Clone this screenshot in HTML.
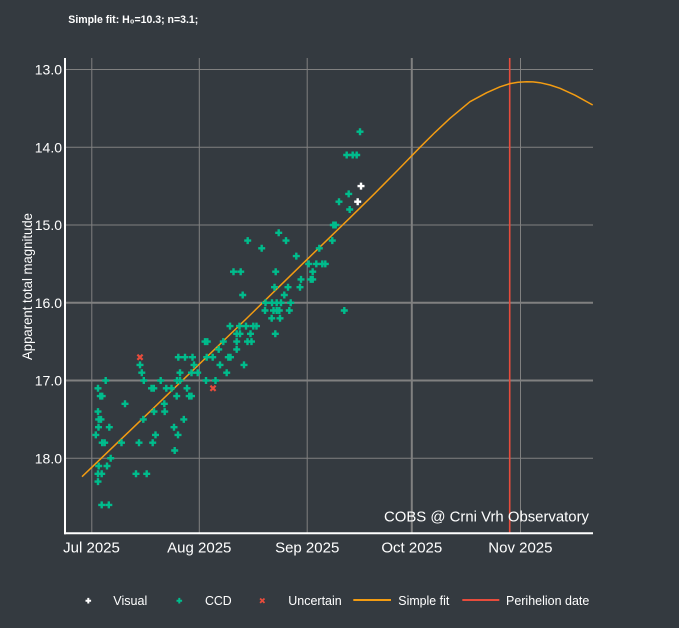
<!DOCTYPE html>
<html><head><meta charset="utf-8"><style>
html,body{margin:0;padding:0;background:#343a40;}
svg{display:block;font-family:"Liberation Sans",Arial,sans-serif;}
</style></head><body>
<svg width="679" height="628" viewBox="0 0 679 628" xmlns="http://www.w3.org/2000/svg">
<defs>
<path id="c" d="M-3.5-1.2h2.3v-2.3h2.4v2.3h2.3v2.4h-2.3v2.3h-2.4v-2.3h-2.3z"/>
<path id="cs" d="M-2.8-1h1.8v-1.8h2v1.8h1.8v2h-1.8v1.8h-2v-1.8h-1.8z"/>
<g id="x"><path d="M-2.6-2.6L2.6 2.6M-2.6 2.6L2.6-2.6" stroke="#e74c3c" stroke-width="2.2"/></g>
<g id="xs"><path d="M-2.2-2.2L2.2 2.2M-2.2 2.2L2.2-2.2" stroke="#e74c3c" stroke-width="1.8"/></g>
</defs>
<rect width="679" height="628" fill="#343a40"/>
<text x="68.3" y="23" font-size="11" font-weight="bold" fill="#fff" textLength="130" lengthAdjust="spacingAndGlyphs">Simple fit: H₀=10.3; n=3.1;</text>

<!-- grid -->
<g stroke="#808080" fill="none">
<line x1="65" y1="69.5" x2="593" y2="69.5" stroke-width="1"/>
<line x1="65" y1="147.3" x2="593" y2="147.3" stroke-width="1"/>
<line x1="65" y1="225" x2="593" y2="225" stroke-width="1"/>
<line x1="65" y1="302.75" x2="593" y2="302.75" stroke-width="2"/>
<line x1="65" y1="380.5" x2="593" y2="380.5" stroke-width="2"/>
<line x1="65" y1="458.25" x2="593" y2="458.25" stroke-width="1"/>
<line x1="91.8" y1="58" x2="91.8" y2="533" stroke-width="1"/>
<line x1="199.3" y1="58" x2="199.3" y2="533" stroke-width="1"/>
<line x1="307.2" y1="58" x2="307.2" y2="533" stroke-width="1"/>
<line x1="411.8" y1="58" x2="411.8" y2="533" stroke-width="2"/>
<line x1="520.5" y1="58" x2="520.5" y2="533" stroke-width="1"/>
</g>
<line x1="509.7" y1="58" x2="509.7" y2="533" stroke="#e74c3c" stroke-width="1.6"/>

<!-- axes -->
<line x1="65" y1="58" x2="65" y2="534.3" stroke="#fff" stroke-width="2"/>
<line x1="64" y1="533.3" x2="593" y2="533.3" stroke="#fff" stroke-width="2"/>

<!-- y ticks -->
<g font-size="14" fill="#fff" text-anchor="end">
<text x="62" y="74.5">13.0</text>
<text x="62" y="152.3">14.0</text>
<text x="62" y="230">15.0</text>
<text x="62" y="307.8">16.0</text>
<text x="62" y="385.5">17.0</text>
<text x="62" y="463.3">18.0</text>
</g>
<text transform="translate(32,286.5) rotate(-90)" text-anchor="middle" font-size="14" fill="#fff" textLength="147" lengthAdjust="spacingAndGlyphs">Apparent total magnitude</text>

<!-- x ticks -->
<g font-size="15" fill="#fff" text-anchor="middle">
<text x="91.5" y="552.3">Jul 2025</text>
<text x="199.3" y="552.3">Aug 2025</text>
<text x="307.2" y="552.3">Sep 2025</text>
<text x="411.8" y="552.3">Oct 2025</text>
<text x="520.4" y="552.3">Nov 2025</text>
</g>

<!-- fit -->
<polyline fill="none" stroke="#f39c12" stroke-width="1.5" stroke-linejoin="round" points="82,476.7 195,368.3 245,320 300,266.3 350,217.8 375,193.2 398.3,169.6 420,147.3 435,132.4 450,118.3 470,101.7 486.7,92.7 500,86.8 510,83.6 518,82.2 526.7,81.7 533,81.9 540,82.7 550,85 560,88.3 575,95.2 592.7,105"/>

<!-- CCD -->
<g fill="#00bc8c">
<use href="#c" x="360" y="131.7"/>
<use href="#c" x="346.7" y="155"/><use href="#c" x="352.7" y="155"/><use href="#c" x="356.7" y="155"/>
<use href="#c" x="348.7" y="193.9"/>
<use href="#c" x="339" y="201.7"/>
<use href="#c" x="349.7" y="209.5"/>
<use href="#c" x="333.3" y="225"/><use href="#c" x="335.7" y="225"/>
<use href="#c" x="278.7" y="232.8"/>
<use href="#c" x="247.7" y="240.6"/><use href="#c" x="286" y="240.6"/><use href="#c" x="332.3" y="240.6"/>
<use href="#c" x="261.7" y="248.3"/><use href="#c" x="319.3" y="248.3"/>
<use href="#c" x="296.3" y="256.1"/>
<use href="#c" x="308.7" y="263.9"/><use href="#c" x="316.3" y="263.9"/><use href="#c" x="322.3" y="263.9"/><use href="#c" x="325.3" y="263.9"/>
<use href="#c" x="233.5" y="271.7"/><use href="#c" x="240.7" y="271.7"/><use href="#c" x="275.7" y="271.7"/><use href="#c" x="312.7" y="271.7"/>
<use href="#c" x="301" y="279.4"/><use href="#c" x="310.7" y="279.4"/><use href="#c" x="312.7" y="279.4"/>
<use href="#c" x="274.5" y="287.2"/><use href="#c" x="288" y="287.2"/><use href="#c" x="300" y="287.2"/>
<use href="#c" x="242.7" y="295"/><use href="#c" x="284.3" y="295"/>
<use href="#c" x="265.5" y="302.75"/><use href="#c" x="272" y="302.75"/><use href="#c" x="276.7" y="302.75"/><use href="#c" x="281" y="302.75"/><use href="#c" x="290.7" y="302.75"/>
<use href="#c" x="265" y="310.5"/><use href="#c" x="273.5" y="310.5"/><use href="#c" x="276.7" y="310.5"/><use href="#c" x="279.3" y="310.5"/><use href="#c" x="289.3" y="310.5"/><use href="#c" x="344.3" y="310.5"/>
<use href="#c" x="271.7" y="318.3"/><use href="#c" x="280" y="318.3"/>
<use href="#c" x="230" y="326.1"/><use href="#c" x="239.5" y="326.1"/><use href="#c" x="246" y="326.1"/><use href="#c" x="253.3" y="326.1"/><use href="#c" x="256.5" y="326.1"/>
<use href="#c" x="236.7" y="333.8"/><use href="#c" x="240" y="333.8"/><use href="#c" x="250.5" y="333.8"/><use href="#c" x="275.3" y="333.8"/>
<use href="#c" x="205" y="341.6"/><use href="#c" x="207.3" y="341.6"/><use href="#c" x="223.3" y="341.6"/><use href="#c" x="236.7" y="341.6"/><use href="#c" x="247.5" y="341.6"/><use href="#c" x="251.5" y="341.6"/>
<use href="#c" x="218.7" y="349.4"/><use href="#c" x="236.7" y="349.4"/>
<use href="#c" x="178.3" y="357.2"/><use href="#c" x="185" y="357.2"/><use href="#c" x="192.5" y="357.2"/><use href="#c" x="206.7" y="357.2"/><use href="#c" x="212.7" y="357.2"/><use href="#c" x="228.3" y="357.2"/><use href="#c" x="230.5" y="357.2"/>
<use href="#c" x="140" y="364.9"/><use href="#c" x="194" y="364.9"/><use href="#c" x="220" y="364.9"/><use href="#c" x="244" y="364.9"/>
<use href="#c" x="141.8" y="372.7"/><use href="#c" x="180" y="372.7"/><use href="#c" x="191.5" y="372.7"/><use href="#c" x="197.7" y="372.7"/><use href="#c" x="226.7" y="372.7"/>
<use href="#c" x="105.7" y="380.5"/><use href="#c" x="143.8" y="380.5"/><use href="#c" x="160.7" y="380.5"/><use href="#c" x="177" y="380.5"/><use href="#c" x="180" y="380.5"/><use href="#c" x="206" y="380.5"/><use href="#c" x="215.5" y="380.5"/>
<use href="#c" x="98" y="388.3"/><use href="#c" x="151.5" y="388.3"/><use href="#c" x="153.8" y="388.3"/><use href="#c" x="166.3" y="388.3"/><use href="#c" x="171.5" y="388.3"/><use href="#c" x="187" y="388.3"/>
<use href="#c" x="100.3" y="396.1"/><use href="#c" x="102.2" y="396.1"/><use href="#c" x="176.7" y="396.1"/><use href="#c" x="189.2" y="396.1"/><use href="#c" x="191.5" y="396.1"/>
<use href="#c" x="125" y="403.8"/><use href="#c" x="164.3" y="403.8"/>
<use href="#c" x="98" y="411.6"/><use href="#c" x="154" y="411.6"/><use href="#c" x="164.7" y="411.6"/>
<use href="#c" x="98.7" y="419.4"/><use href="#c" x="101" y="419.4"/><use href="#c" x="143.3" y="419.4"/><use href="#c" x="183.8" y="419.4"/>
<use href="#c" x="98.5" y="427.2"/><use href="#c" x="109.3" y="427.2"/><use href="#c" x="174" y="427.2"/>
<use href="#c" x="95.8" y="434.9"/><use href="#c" x="155.5" y="434.9"/><use href="#c" x="178" y="434.9"/>
<use href="#c" x="102.2" y="442.7"/><use href="#c" x="104.7" y="442.7"/><use href="#c" x="121.5" y="442.7"/><use href="#c" x="139" y="442.7"/><use href="#c" x="152.7" y="442.7"/>
<use href="#c" x="174.7" y="450.5"/>
<use href="#c" x="110.7" y="458.25"/>
<use href="#c" x="98.7" y="466"/><use href="#c" x="107" y="466"/>
<use href="#c" x="98" y="473.8"/><use href="#c" x="101.7" y="473.8"/><use href="#c" x="136" y="473.8"/><use href="#c" x="146.7" y="473.8"/>
<use href="#c" x="98" y="481.6"/>
<use href="#c" x="101.7" y="504.9"/><use href="#c" x="108.8" y="504.9"/>
</g>
<!-- Visual -->
<g fill="#ffffff">
<use href="#c" x="361" y="186.1"/>
<use href="#c" x="357.7" y="201.7"/>
</g>
<!-- Uncertain -->
<use href="#x" x="140" y="357.2"/>
<use href="#x" x="213" y="388.3"/>

<text x="384" y="521.7" font-size="15" fill="#fff" textLength="205" lengthAdjust="spacingAndGlyphs">COBS @ Crni Vrh Observatory</text>

<!-- legend -->
<use href="#cs" x="88.3" y="600.7" fill="#fff"/>
<text x="113.3" y="605" font-size="13" fill="#fff" textLength="34" lengthAdjust="spacingAndGlyphs">Visual</text>
<use href="#cs" x="179.3" y="600.7" fill="#00bc8c"/>
<text x="205" y="605" font-size="13" fill="#fff" textLength="26.7" lengthAdjust="spacingAndGlyphs">CCD</text>
<use href="#xs" x="262.3" y="600.7"/>
<text x="288.3" y="605" font-size="13" fill="#fff" textLength="53.4" lengthAdjust="spacingAndGlyphs">Uncertain</text>
<line x1="353.3" y1="600" x2="391" y2="600" stroke="#f39c12" stroke-width="2"/>
<text x="398.3" y="605" font-size="13" fill="#fff" textLength="51" lengthAdjust="spacingAndGlyphs">Simple fit</text>
<line x1="462.3" y1="600" x2="499.3" y2="600" stroke="#e74c3c" stroke-width="2"/>
<text x="506" y="605" font-size="13" fill="#fff" textLength="83.3" lengthAdjust="spacingAndGlyphs">Perihelion date</text>
</svg>
</body></html>
